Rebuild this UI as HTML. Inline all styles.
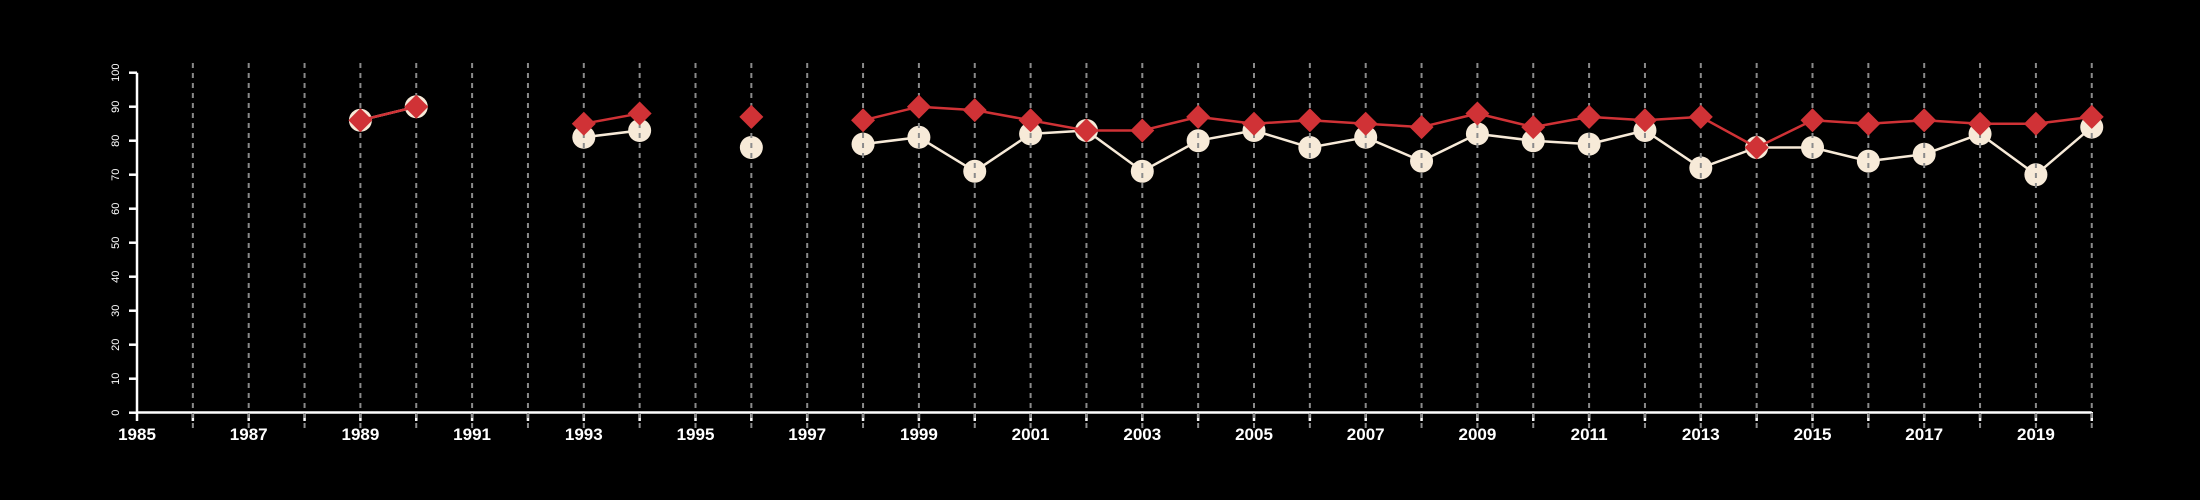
<!DOCTYPE html>
<html><head><meta charset="utf-8"><style>
html,body{margin:0;padding:0;background:#000;width:2200px;height:500px;overflow:hidden}
svg text{font-family:"Liberation Sans",sans-serif;fill:#fff}
</style></head><body>
<svg id="s" width="2200" height="500" xmlns="http://www.w3.org/2000/svg"></svg>
<script>
const s=document.getElementById('s');
const X=y=>137+(y-1985)*55.85, Y=v=>412.7-v*3.4;
let h='';
// y axis
h+=`<line x1="137" y1="${Y(100)}" x2="137" y2="${Y(0)}" stroke="#fff" stroke-width="2.5"/>`;
for(let v=0;v<=100;v+=10){const y=Y(v);
h+=`<line x1="129" y1="${y}" x2="137" y2="${y}" stroke="#fff" stroke-width="2.5"/>`;
h+=`<text transform="translate(119,${y}) rotate(-90)" text-anchor="middle" font-size="11">${v}</text>`;}
// x axis
h+=`<line x1="137" y1="412.5" x2="${X(2020)}" y2="412.5" stroke="#fff" stroke-width="2.5"/>`;
for(let yr=1985;yr<=2020;yr++){const x=X(yr);
h+=`<line x1="${x}" y1="412" x2="${x}" y2="421" stroke="#fff" stroke-width="2.5"/>`;
if(yr%2==1)h+=`<text x="${x}" y="440" text-anchor="middle" font-size="17" font-weight="bold">${yr}</text>`;}
const W={1989:86,1990:90,1993:81,1994:83,1996:78,1998:79,1999:81,2000:71,2001:82,2002:83,2003:71,2004:80,2005:83,2006:78,2007:81,2008:74,2009:82,2010:80,2011:79,2012:83,2013:72,2014:78,2015:78,2016:74,2017:76,2018:82,2019:70,2020:84};
const R={1989:86,1990:90,1993:85,1994:88,1996:87,1998:86,1999:90,2000:89,2001:86,2002:83,2003:83,2004:87,2005:85,2006:86,2007:85,2008:84,2009:88,2010:84,2011:87,2012:86,2013:87,2014:78,2015:86,2016:85,2017:86,2018:85,2019:85,2020:87};
function lines(d,c,w){let o='';for(let y=1985;y<2020;y++){if(d[y]!=null&&d[y+1]!=null)o+=`<line x1="${X(y)}" y1="${Y(d[y])}" x2="${X(y+1)}" y2="${Y(d[y+1])}" stroke="${c}" stroke-width="${w}"/>`;}return o;}
h+=lines(W,'#f7ead8',2.5);
for(const y in W)h+=`<circle cx="${X(+y)}" cy="${Y(W[y])}" r="11.5" fill="#f7ead8"/>`;
// grid
for(let yr=1986;yr<=2020;yr++){const x=X(yr);
h+=`<line x1="${x}" y1="63" x2="${x}" y2="428" stroke="#8a8a8a" stroke-width="2" stroke-dasharray="5,5"/>`;}
h+=lines(R,'#d03236',2.5);
for(const y in R){const x=X(+y),yy=Y(R[y]);h+=`<polygon points="${x},${yy-12} ${x+12},${yy} ${x},${yy+12} ${x-12},${yy}" fill="#d03236"/>`;}
s.innerHTML=h;
</script>
</body></html>
